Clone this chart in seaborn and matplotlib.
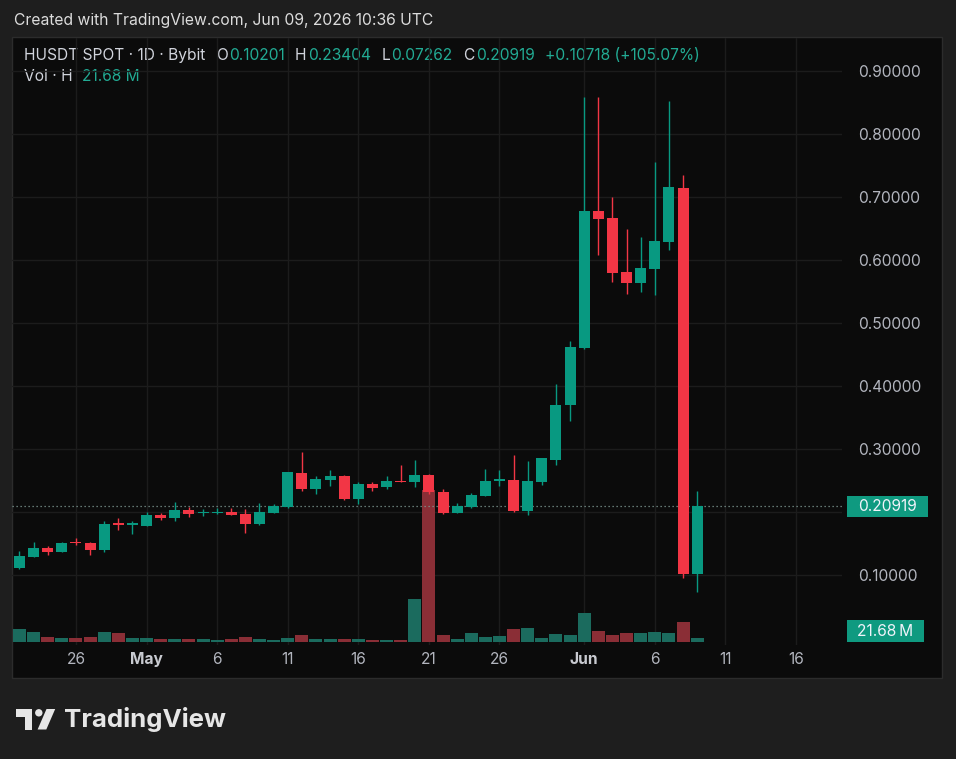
import matplotlib
matplotlib.use("Agg")
import matplotlib.pyplot as plt
from matplotlib.patches import Rectangle, Polygon, Circle
from matplotlib.offsetbox import TextArea, HPacker, VPacker, AnnotationBbox
from matplotlib.transforms import blended_transform_factory
import pandas as pd
import seaborn as sns

# HUSDT daily candles (Bybit spot)
dates = pd.date_range("2026-04-22", "2026-06-09", freq="D")
opens = [0.111, 0.129, 0.143, 0.137, 0.153, 0.151, 0.140, 0.183, 0.180, 0.178,
         0.196, 0.191, 0.203, 0.198, 0.199, 0.200, 0.197, 0.181, 0.199, 0.208,
         0.262, 0.236, 0.251, 0.257, 0.221, 0.244, 0.239, 0.249, 0.248, 0.259,
         0.232, 0.199, 0.208, 0.226, 0.250, 0.251, 0.202, 0.248, 0.283, 0.370,
         0.461, 0.678, 0.666, 0.581, 0.564, 0.586, 0.629, 0.715, 0.10201]
highs = [0.138, 0.152, 0.146, 0.153, 0.159, 0.152, 0.186, 0.191, 0.185, 0.200,
         0.198, 0.216, 0.208, 0.205, 0.206, 0.207, 0.205, 0.215, 0.212, 0.264,
         0.295, 0.257, 0.267, 0.259, 0.247, 0.248, 0.257, 0.274, 0.283, 0.261,
         0.237, 0.215, 0.230, 0.269, 0.267, 0.291, 0.281, 0.286, 0.403, 0.471,
         0.859, 0.859, 0.700, 0.649, 0.637, 0.756, 0.853, 0.735, 0.23404]
lows = [0.110, 0.128, 0.132, 0.136, 0.148, 0.131, 0.137, 0.171, 0.165, 0.177,
        0.187, 0.186, 0.192, 0.193, 0.197, 0.195, 0.167, 0.180, 0.198, 0.207,
        0.234, 0.228, 0.242, 0.219, 0.212, 0.234, 0.237, 0.247, 0.240, 0.228,
        0.197, 0.198, 0.207, 0.225, 0.241, 0.200, 0.195, 0.243, 0.275, 0.345,
        0.458, 0.608, 0.565, 0.546, 0.549, 0.544, 0.616, 0.096, 0.07262]
closes = [0.130, 0.143, 0.137, 0.151, 0.151, 0.140, 0.181, 0.179, 0.182, 0.196,
          0.191, 0.203, 0.197, 0.199, 0.200, 0.196, 0.181, 0.200, 0.210, 0.263,
          0.236, 0.252, 0.257, 0.221, 0.244, 0.238, 0.249, 0.248, 0.259, 0.231,
          0.199, 0.210, 0.227, 0.249, 0.251, 0.202, 0.249, 0.285, 0.370, 0.462,
          0.678, 0.665, 0.580, 0.564, 0.587, 0.630, 0.716, 0.10201, 0.20919]
volumes = [70, 53, 29, 23, 22, 29, 54, 49, 23, 23,
           18, 18, 18, 16, 12, 16, 29, 16, 11, 22,
           38, 15, 15, 15, 16, 11, 11, 11, 235, 824,
           36, 18, 50, 29, 33, 70, 76, 22, 43, 38,
           159, 61, 40, 50, 49, 56, 50, 110, 21.68]  # millions

tick_dates = pd.to_datetime(["2026-04-26", "2026-05-01", "2026-05-06", "2026-05-11",
                             "2026-05-16", "2026-05-21", "2026-05-26", "2026-06-01",
                             "2026-06-06", "2026-06-11", "2026-06-16"])
tick_labels = ["26", "May", "6", "11", "16", "21", "26", "Jun", "6", "11", "16"]
price_ticks = [0.1, 0.2, 0.3, 0.4, 0.5, 0.6, 0.7, 0.8, 0.9]

UP = "#089981"
DOWN = "#f23645"
VOL_UP = "#1b6b5e"
VOL_DOWN = "#8a2e36"
TEXT = "#b2b5be"
GREEN_TXT = "#22ab94"

sns.set_theme(style="dark")
plt.rcParams["font.family"] = ["Inter", "DejaVu Sans"]

W, H = 956, 759
fig = plt.figure(figsize=(W / 100, H / 100), dpi=100)
fig.patch.set_facecolor("#1e1e1e")


def rect(x0, y0, x1, y1):
    return [x0 / W, 1 - y1 / H, (x1 - x0) / W, (y1 - y0) / H]


# page chrome in pixel coords
bg = fig.add_axes([0, 0, 1, 1])
bg.set_xlim(0, W)
bg.set_ylim(H, 0)
bg.axis("off")
bg.add_patch(Rectangle((12, 37), 930, 641, facecolor="#0b0b0b", edgecolor="#2c2c2c", lw=1))
bg.text(14, 20, "Created with TradingView.com, Jun 09, 2026 10:36 UTC",
        color="#dcdcdc", fontsize=11.3, va="center", ha="left")

# logo
bg.add_patch(Polygon([(16, 709), (32.5, 709), (32.5, 729.5), (24.7, 729.5),
                      (24.7, 716.5), (16, 716.5)], closed=True, fc="#e6e6e6", ec="none"))
bg.add_patch(Circle((38.8, 712.8), 3.7, fc="#e6e6e6", ec="none"))
bg.add_patch(Polygon([(46.5, 709), (55.2, 709), (46.3, 729.5), (37.6, 729.5)],
                     closed=True, fc="#e6e6e6", ec="none"))
bg.text(64, 719.5, "TradingView", color="#e6e6e6", fontsize=18.6, fontweight="bold",
        va="center", ha="left")

day = (dates - dates[0]).days.to_numpy()
tick_pos = (tick_dates - dates[0]).days.to_numpy()
xlim = (-0.53, 58.26)
ylim = (-0.0111, 0.9524)
px_per_m = 4 / 21.68
vlim = (-3 / px_per_m, 604 / px_per_m)
last = closes[-1]

area = rect(12, 38, 842, 645)

# grid + axes labels
ax_g = fig.add_axes(area)
ax_g.set_facecolor("none")
ax_g.set_xlim(xlim)
ax_g.set_ylim(ylim)
ax_g.set_xticks(tick_pos)
ax_g.set_xticklabels(tick_labels)
ax_g.set_yticks(price_ticks)
# the scale label hidden behind the last-price tag is not drawn
ax_g.set_yticklabels(["" if abs(p - last) < 0.025 else f"{p:.5f}" for p in price_ticks])
ax_g.yaxis.tick_right()
ax_g.tick_params(axis="x", length=0, pad=5, labelsize=11.2, labelcolor=TEXT)
ax_g.tick_params(axis="y", length=0, pad=11.5, labelsize=11.2, labelcolor=TEXT)
for lbl in ax_g.get_xticklabels():
    if lbl.get_text() in ("May", "Jun"):
        lbl.set_fontweight("bold")
        lbl.set_color("#c8cad0")
ax_g.grid(True, color="#1c1c1c", lw=1)
for s in ax_g.spines.values():
    s.set_visible(False)

# volume pane
ax_v = fig.add_axes(area)
vol_df = pd.DataFrame({
    "day": day,
    "volume": volumes,
    "dir": ["up" if c >= o else "down" for o, c in zip(opens, closes)],
})
sns.barplot(data=vol_df, x="day", y="volume", hue="dir", palette={"up": VOL_UP, "down": VOL_DOWN},
            native_scale=True, width=0.92, dodge=False, saturation=1, errorbar=None,
            legend=False, orient="x", ax=ax_v, linewidth=0)
ax_v.set_xlim(xlim)
ax_v.set_ylim(vlim)
ax_v.set_facecolor("none")
ax_v.axis("off")

# candles
ax = fig.add_axes(area)
ax.set_facecolor("none")
ax.set_xlim(xlim)
ax.set_ylim(ylim)
ax.axis("off")
colors = [UP if c >= o else DOWN for o, c in zip(opens, closes)]
ax.vlines(day, lows, highs, colors=colors, lw=1.0, zorder=2)
bottoms = [min(o, c) for o, c in zip(opens, closes)]
heights = [max(abs(c - o), 0.0017) for o, c in zip(opens, closes)]
ax.bar(day, heights, bottom=bottoms, width=0.78, color=colors, linewidth=0, zorder=3)

ax.axhline(last, color="#7f9a94", lw=0.9, ls=(0, (1, 2.2)), zorder=1)

# price / volume tags on the right scale
tr = blended_transform_factory(ax.transAxes, ax.transData)
ax.add_patch(Rectangle((1.006, last - 10.5 / 630), 81 / 830, 21 / 630, transform=tr,
                       fc="#0f9a80", ec="none", clip_on=False, zorder=5))
ax.text(1.006 + 40.5 / 830, last, f"{last:.5f}", transform=tr, color="#f0f3fa",
        fontsize=11.2, ha="center", va="center", clip_on=False, zorder=6)
trv = blended_transform_factory(ax_v.transAxes, ax_v.transData)
box_h = 22 / px_per_m
vc = max(volumes[-1], box_h / 2)
ax_v.add_patch(Rectangle((1.006, vc - box_h / 2), 77 / 830, box_h, transform=trv,
                         fc="#0f9a80", ec="none", clip_on=False, zorder=5))
ax_v.text(1.006 + 38.5 / 830, vc, f"{volumes[-1]:.2f}\u2009M", transform=trv, color="#f0f3fa",
          fontsize=11.2, ha="center", va="center", clip_on=False, zorder=6)

# legend rows (symbol + OHLC)
o, h, l, c = opens[-1], highs[-1], lows[-1], closes[-1]
chg = c - o
lbl_kw = dict(color="#d1d4dc", fontsize=11.2)
val_kw = dict(color=GREEN_TXT, fontsize=11.2)


def pair(a, b):
    return HPacker(children=[TextArea(a, textprops=lbl_kw), TextArea(b, textprops=val_kw)],
                   sep=1, pad=0, align="baseline")


row1 = HPacker(children=[
    TextArea("HUSDT SPOT \u00b7 1D \u00b7 Bybit", textprops=lbl_kw),
    pair("O", f"{o:.5f}"), pair("H", f"{h:.5f}"), pair("L", f"{l:.5f}"), pair("C", f"{c:.5f}"),
    TextArea(f"+{chg:.5f} (+{chg / o * 100:.2f}%)", textprops=val_kw),
], sep=7.5, pad=0, align="baseline")
row2 = HPacker(children=[TextArea("Vol \u00b7 H", textprops=lbl_kw),
                         TextArea(f"{volumes[-1]:.2f} M", textprops=val_kw)],
               sep=7, pad=0, align="baseline")
legend = VPacker(children=[row1, row2], sep=4, pad=0, align="left")
bg.add_artist(AnnotationBbox(legend, (24, 48), xycoords="data", box_alignment=(0, 1),
                             frameon=False, pad=0))

fig.savefig("out.png", dpi=100, facecolor=fig.get_facecolor())
